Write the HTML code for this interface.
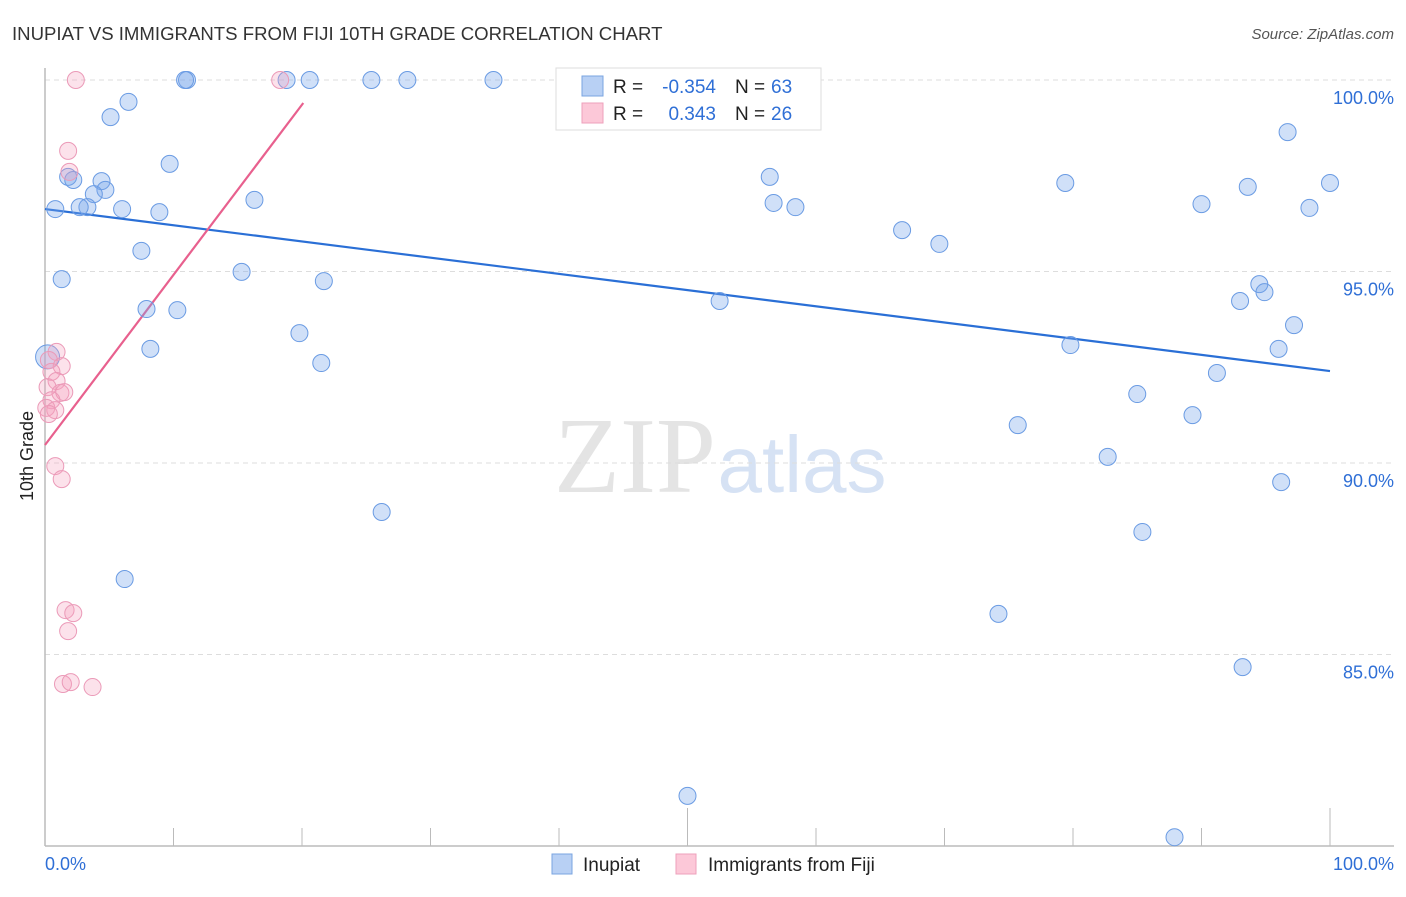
<!DOCTYPE html>
<html><head><meta charset="utf-8"><style>
body{margin:0;background:#fff;font-family:"Liberation Sans",sans-serif;}
</style></head><body>
<svg id="chart" width="1406" height="892" xmlns="http://www.w3.org/2000/svg">
<text x="12" y="40" font-size="18.6" fill="#333">INUPIAT VS IMMIGRANTS FROM FIJI 10TH GRADE CORRELATION CHART</text>
<text x="1394" y="39" font-size="15" fill="#555" text-anchor="end" font-style="italic">Source: ZipAtlas.com</text>
<text x="33" y="456" font-size="18" fill="#222" text-anchor="middle" transform="rotate(-90 33 456)">10th Grade</text>
<g>
<text x="635" y="492" font-size="108" font-family="Liberation Serif,serif" fill="#e4e4e4" text-anchor="middle">ZIP</text>
<text x="802" y="492" font-size="80" fill="#d6e2f4" text-anchor="middle">atlas</text>
</g>
<g id="grid"></g><g id="axes"></g><g id="lines"></g><g id="pts"></g>
<g>
<rect x="556" y="68" width="265" height="62" fill="#fff" stroke="#ddd"/>
<rect x="582" y="76" width="21" height="20" fill="#b8d0f4" stroke="#7aa4e0"/>
<rect x="582" y="103" width="21" height="20" fill="#fcc8d8" stroke="#eea0bb"/>
<text x="613" y="93" font-size="19" fill="#222">R =</text><text x="716" y="93" font-size="19" fill="#2f6fd6" text-anchor="end">-0.354</text>
<text x="735" y="93" font-size="19" fill="#222">N =</text><text x="771" y="93" font-size="19" fill="#2f6fd6">63</text>
<text x="613" y="120" font-size="19" fill="#222">R =</text><text x="716" y="120" font-size="19" fill="#2f6fd6" text-anchor="end">0.343</text>
<text x="735" y="120" font-size="19" fill="#222">N =</text><text x="771" y="120" font-size="19" fill="#2f6fd6">26</text>
</g>
<g>
<rect x="552" y="854" width="20" height="20" fill="#b8d0f4" stroke="#7aa4e0"/>
<text x="583" y="871" font-size="19" fill="#222">Inupiat</text>
<rect x="676" y="854" width="20" height="20" fill="#fcc8d8" stroke="#eea0bb"/>
<text x="708" y="871" font-size="19" fill="#222">Immigrants from Fiji</text>
</g>
<text x="45" y="870" font-size="18" fill="#2f6fd6">0.0%</text>
<text x="1394" y="870" font-size="18" fill="#2f6fd6" text-anchor="end">100.0%</text>
</svg>
<script>
const yTicks=[100,95,90,85];
const yTickLabels=["100.0%","95.0%","90.0%","85.0%"];
const xTicks=[0,10,20,30,40,50,60,70,80,90,100];
const blueX=[11.05,10.9,18.8,20.6,25.4,28.2,34.9,47.2,6.5,5.1,9.7,1.8,2.2,4.4,4.7,3.8,3.3,2.7,0.8,6.0,8.9,16.3,7.5,15.3,1.3,21.7,7.9,10.3,19.8,8.2,21.5,0.2,26.2,6.2,56.4,56.7,58.4,66.7,69.6,52.5,79.4,79.8,85.0,75.7,82.7,85.4,74.2,50.0,87.9,96.7,93.6,100,90.0,98.4,94.5,94.9,93.0,97.2,96.0,91.2,89.3,96.2,93.2];
const blueY=[100,100,100,100,100,100,100,100,99.43,99.03,97.81,97.47,97.39,97.36,97.13,97.02,96.68,96.68,96.63,96.63,96.55,96.87,95.54,94.99,94.8,94.75,94.02,93.99,93.39,92.98,92.61,92.77,88.72,86.97,97.47,96.79,96.68,96.08,95.72,94.23,97.31,93.08,91.8,90.99,90.16,88.2,86.06,81.31,80.23,98.64,97.21,97.31,96.76,96.66,94.67,94.46,94.23,93.6,92.98,92.35,91.25,89.5,84.67];
const pinkX=[2.4,18.3,1.8,1.9,0.9,0.3,1.3,0.5,0.9,0.2,1.2,1.5,0.5,0.1,0.8,0.3,0.8,1.3,1.6,2.2,1.8,1.4,2.0,3.7];
const pinkY=[100,100,98.15,97.6,92.9,92.69,92.53,92.38,92.14,91.98,91.83,91.85,91.64,91.44,91.38,91.28,89.92,89.58,86.16,86.08,85.61,84.23,84.28,84.15];
const blueTrend=[[0,96.63],[100,92.4]];
const pinkTrend=[[0,90.47],[20.1,99.4]];
const NS="http://www.w3.org/2000/svg";
const X0=45,X1=1330,YT=80,YB=846,VMIN=80,VMAX=100;
const sx=v=>X0+(X1-X0)*v/100;
const sy=v=>YB-(YB-YT)*(v-VMIN)/(VMAX-VMIN);
function mk(tag,at,parent){const e=document.createElementNS(NS,tag);for(const k in at)e.setAttribute(k,at[k]);parent.appendChild(e);return e;}
const grid=document.getElementById('grid'),axes=document.getElementById('axes');
yTicks.forEach((t,i)=>{
 const l=mk('line',{x1:X0,x2:1394,y1:sy(t),y2:sy(t),stroke:'#ddd','stroke-dasharray':'5,4'},grid);
 
 
 const tx=mk('text',{x:1394,y:sy(t)+24,'font-size':18,fill:'#2f6fd6','text-anchor':'end'},grid);
 tx.textContent=yTickLabels[i];
 
 
});
const ya=mk('line',{x1:X0,x2:X0,y1:68,y2:YB,stroke:'#bbb','stroke-width':1.5},axes);


const xa=mk('line',{x1:X0,x2:1394,y1:YB,y2:YB,stroke:'#bbb','stroke-width':1.5},axes);


xTicks.forEach(t=>{
 const tall=(t===50||t===100);
 const l=mk('line',{x1:sx(t),x2:sx(t),y1:tall?808:828,y2:YB,stroke:'#bbb'},axes);
 
 
});
const lines=document.getElementById('lines');
const bl=mk('line',{x1:sx(blueTrend[0][0]),y1:sy(blueTrend[0][1]),x2:sx(blueTrend[1][0]),y2:sy(blueTrend[1][1]),stroke:'#2a6fd6','stroke-width':2.2},lines);


const pl=mk('line',{x1:sx(pinkTrend[0][0]),y1:sy(pinkTrend[0][1]),x2:sx(pinkTrend[1][0]),y2:sy(pinkTrend[1][1]),stroke:'#e8608e','stroke-width':2.2},lines);


const pts=document.getElementById('pts');
blueX.forEach((x,i)=>{
 const c=mk('circle',{cx:sx(x),cy:sy(blueY[i]),r:(i===31?12:8.5),fill:'rgba(120,165,235,0.35)',stroke:'#6a9be3','stroke-width':1},pts);
 
 
});
pinkX.forEach((x,i)=>{
 const c=mk('circle',{cx:sx(x),cy:sy(pinkY[i]),r:8.5,fill:'rgba(245,160,190,0.3)',stroke:'#eb9ab8','stroke-width':1},pts);
 
 
});
</script>
</body></html>
